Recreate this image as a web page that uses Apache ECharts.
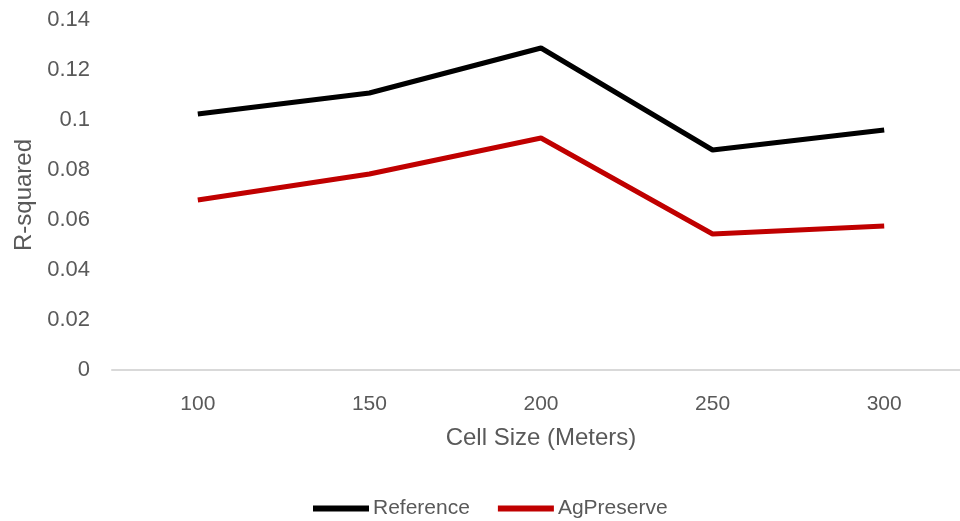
<!DOCTYPE html>
<html>
<head>
<meta charset="utf-8">
<script src="https://cdn.jsdelivr.net/npm/echarts@6/dist/echarts.min.js"></script>
<style>
  html, body { margin: 0; padding: 0; background: #fff; }
  #chart { width: 960px; height: 521px; }
</style>
</head>
<body>
<div id="chart"></div>
<script>
// Cell sizes (meters) on the x axis
const cellSizes = ['100', '150', '200', '250', '300'];
// R-squared values per series
const referenceValues = [0.1024, 0.1108, 0.1288, 0.0880, 0.0960];
const agPreserveValues = [0.0680, 0.0784, 0.0928, 0.0544, 0.0576];

const textColor = '#595959';
const fontFamily = '"Liberation Sans", Arial, sans-serif';

const chart = echarts.init(document.getElementById('chart'), null, { renderer: 'canvas' });

chart.setOption({
  animation: false,
  textStyle: { fontFamily: fontFamily },
  grid: { left: 112, width: 858, top: 20, height: 350, containLabel: false, outerBoundsMode: 'none' },
  legend: {
    top: 498,
    left: 313,
    padding: 0,
    itemWidth: 56,
    itemHeight: 6,
    itemGap: 28,
    icon: 'rect',
    textStyle: { color: textColor, fontSize: 21, fontFamily: fontFamily, padding: [0, 0, 0, -1] },
    data: ['Reference', 'AgPreserve']
  },
  xAxis: {
    type: 'category',
    data: cellSizes,
    boundaryGap: true,
    name: 'Cell Size (Meters)',
    nameLocation: 'middle',
    nameGap: 56,
    nameTextStyle: { color: textColor, fontSize: 24, fontFamily: fontFamily },
    axisLine: { show: true, lineStyle: { color: '#d9d9d9', width: 2 } },
    axisTick: { show: false },
    axisLabel: { color: textColor, fontSize: 21, margin: 24, fontFamily: fontFamily },
    splitLine: { show: false }
  },
  yAxis: {
    type: 'value',
    min: 0,
    max: 0.14,
    interval: 0.02,
    name: 'R-squared',
    nameLocation: 'middle',
    nameGap: 76,
    nameRotate: 90,
    nameTextStyle: { color: textColor, fontSize: 24, fontFamily: fontFamily },
    axisLine: { show: false },
    axisTick: { show: false },
    splitLine: { show: false },
    axisLabel: {
      color: textColor,
      fontSize: 22,
      margin: 22,
      fontFamily: fontFamily,
      formatter: function (v) { return String(parseFloat(v.toFixed(2))); }
    }
  },
  series: [
    {
      name: 'Reference',
      type: 'line',
      data: referenceValues,
      symbol: 'none',
      lineStyle: { color: '#000000', width: 5 },
      itemStyle: { color: '#000000' }
    },
    {
      name: 'AgPreserve',
      type: 'line',
      data: agPreserveValues,
      symbol: 'none',
      lineStyle: { color: '#C00000', width: 5 },
      itemStyle: { color: '#C00000' }
    }
  ]
});
</script>
</body>
</html>
